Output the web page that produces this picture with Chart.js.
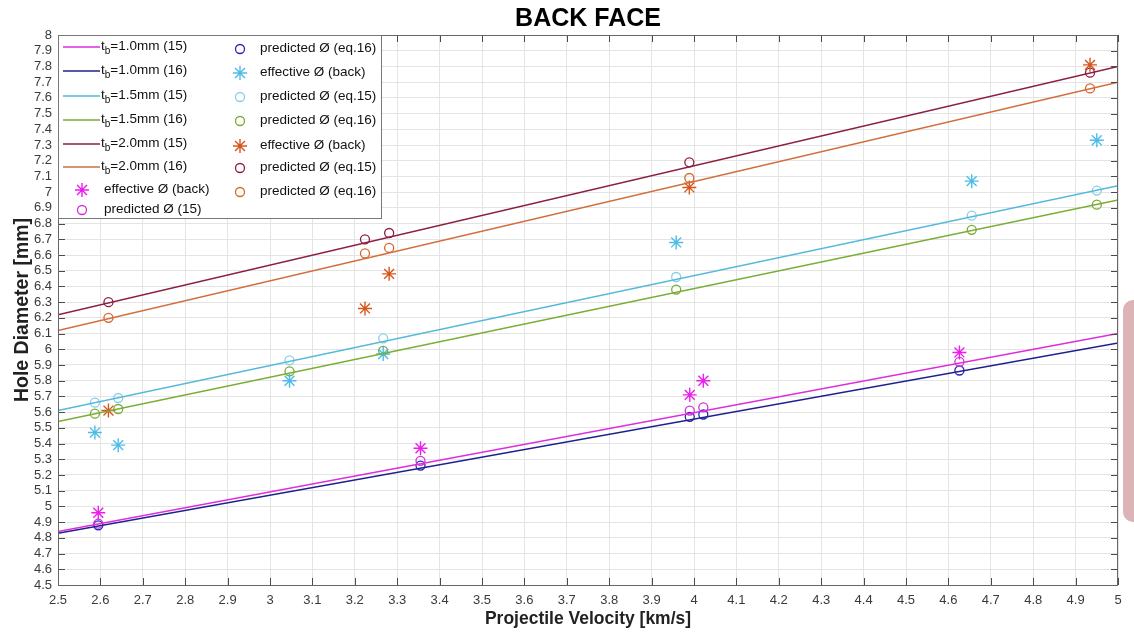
<!DOCTYPE html>
<html>
<head>
<meta charset="utf-8">
<script src="https://cdn.jsdelivr.net/npm/chart.js@4.4.1/dist/chart.umd.min.js"></script>
<style>
    html, body { margin: 0; padding: 0; background: #fff; }
    #wrap { position: relative; width: 1134px; height: 633px; overflow: hidden; }
    #blob { position: absolute; left: 1123px; top: 300px; width: 20px; height: 222px;
            background: #dcb3b6; border-radius: 10px 0 0 10px; }
</style>
</head>
<body>
<div id="wrap">
    <canvas id="chart" width="1134" height="633"></canvas>
    <div id="blob"></div>
</div>
<script>
// axis ticks
const xTicks = [2.5, 2.6, 2.7, 2.8, 2.9, 3, 3.1, 3.2, 3.3, 3.4, 3.5, 3.6, 3.7, 3.8, 3.9,
                4, 4.1, 4.2, 4.3, 4.4, 4.5, 4.6, 4.7, 4.8, 4.9, 5];
const yTicks = [4.5, 4.6, 4.7, 4.8, 4.9, 5, 5.1, 5.2, 5.3, 5.4, 5.5, 5.6, 5.7, 5.8, 5.9,
                6, 6.1, 6.2, 6.3, 6.4, 6.5, 6.6, 6.7, 6.8, 6.9, 7, 7.1, 7.2, 7.3, 7.4,
                7.5, 7.6, 7.7, 7.8, 7.9, 8];

// model lines (value at 2.5 and 5 km/s)
const lineVel = [2.5, 5];
const tb10eq15 = [4.84, 6.10];
const tb10eq16 = [4.83, 6.04];
const tb15eq15 = [5.61, 7.04];
const tb15eq16 = [5.54, 6.95];
const tb20eq15 = [6.22, 7.80];
const tb20eq16 = [6.12, 7.70];

// tb = 1.0 mm
const vel10 = [2.595, 3.355, 3.99, 4.022, 4.626];
const eff10 = [4.96, 5.37, 5.71, 5.80, 5.98];
const pred10eq15 = [4.89, 5.29, 5.61, 5.63, 5.92];
const pred10eq16 = [4.88, 5.26, 5.57, 5.585, 5.865];

// tb = 1.5 mm
const vel15 = [2.587, 2.642, 3.046, 3.267, 3.958, 4.655, 4.95];
const eff15 = [5.47, 5.39, 5.80, 5.97, 6.68, 7.07, 7.33];
const pred15eq15 = [5.66, 5.69, 5.93, 6.07, 6.46, 6.85, 7.01];
const pred15eq16 = [5.59, 5.62, 5.86, 5.99, 6.38, 6.76, 6.92];

// tb = 2.0 mm
const vel20 = [2.619, 3.224, 3.281, 3.989, 4.934];
const eff20 = [5.61, 6.26, 6.48, 7.03, 7.81];
const pred20eq15 = [6.30, 6.70, 6.74, 7.19, 7.76];
const pred20eq16 = [6.20, 6.61, 6.645, 7.09, 7.66];

const sans = '"Liberation Sans", Arial, sans-serif';
Chart.defaults.font.family = sans;

const pts = (xs, ys) => xs.map((x, i) => ({ x: x, y: ys[i] }));
const fmt = v => String(Math.round(v * 10) / 10);

function lineSet(label, ys, color) {
    return { label, data: pts(lineVel, ys), showLine: true, borderColor: color,
             backgroundColor: color, borderWidth: 1.5, pointRadius: 0, kind: 'line' };
}
function markSet(label, xs, ys, color, style) {
    const star = style === 'star';
    return { label, data: pts(xs, ys), showLine: false, borderColor: color,
             backgroundColor: 'rgba(0,0,0,0)', pointStyle: style,
             pointRadius: star ? 7 : 4.5, pointBorderWidth: star ? 1.4 : 1.3, kind: 'mark' };
}

const datasets = [
    lineSet('t_b=1.0mm (15)', tb10eq15, '#dd2ddd'),
    lineSet('t_b=1.0mm (16)', tb10eq16, '#1f1f8f'),
    lineSet('t_b=1.5mm (15)', tb15eq15, '#55b9da'),
    lineSet('t_b=1.5mm (16)', tb15eq16, '#7aad35'),
    lineSet('t_b=2.0mm (15)', tb20eq15, '#8a1f42'),
    lineSet('t_b=2.0mm (16)', tb20eq16, '#d26e3a'),
    markSet('effective Ø (back)', vel10, eff10, '#ec1eec', 'star'),
    markSet('predicted Ø (15)', vel10, pred10eq15, '#d42fd4', 'circle'),
    markSet('predicted Ø (eq.16)', vel10, pred10eq16, '#2424b4', 'circle'),
    markSet('effective Ø (back)', vel15, eff15, '#4dbde8', 'star'),
    markSet('predicted Ø (eq.15)', vel15, pred15eq15, '#86d0e8', 'circle'),
    markSet('predicted Ø (eq.16)', vel15, pred15eq16, '#77ab32', 'circle'),
    markSet('effective Ø (back)', vel20, eff20, '#d7561e', 'star'),
    markSet('predicted Ø (eq.15)', vel20, pred20eq15, '#8c1e3c', 'circle'),
    markSet('predicted Ø (eq.16)', vel20, pred20eq16, '#d2662c', 'circle')
];

// inward ticks and axes box, MATLAB style
const framePlugin = {
    id: 'frame',
    afterDatasetsDraw(chart) {
        const { ctx, chartArea: a, scales } = chart;
        ctx.save();
        ctx.strokeStyle = '#4a4a4a';
        ctx.lineWidth = 1;
        ctx.beginPath();
        xTicks.forEach(v => {
            const px = Math.round(scales.x.getPixelForValue(v)) + 0.5;
            ctx.moveTo(px, a.bottom); ctx.lineTo(px, a.bottom - 7);
            ctx.moveTo(px, a.top); ctx.lineTo(px, a.top + 7);
        });
        yTicks.forEach(v => {
            const py = Math.round(scales.y.getPixelForValue(v)) + 0.5;
            ctx.moveTo(a.left, py); ctx.lineTo(a.left + 7, py);
            ctx.moveTo(a.right, py); ctx.lineTo(a.right - 7, py);
        });
        ctx.stroke();
        ctx.strokeStyle = '#666';
        ctx.strokeRect(a.left + 0.5, a.top + 0.5, a.right - a.left - 1, a.bottom - a.top);
        ctx.restore();
    }
};

// two-column legend in the top-left corner
const rowsLeft = [47, 71, 96, 120, 144, 167, 190, 210];
const rowsRight = [49, 73, 97, 121, 146, 168, 192];
const legendPlugin = {
    id: 'boxLegend',
    afterDatasetsDraw(chart) {
        const ctx = chart.ctx;
        ctx.save();
        ctx.fillStyle = '#fff';
        ctx.strokeStyle = '#777';
        ctx.lineWidth = 1;
        ctx.fillRect(58.5, 35.5, 323, 183);
        ctx.strokeRect(58.5, 35.5, 323, 183);
        ctx.textBaseline = 'middle';
        chart.data.datasets.forEach((ds, i) => {
            const left = i < 8;
            const y = left ? rowsLeft[i] : rowsRight[i - 8];
            let tx;
            if (ds.kind === 'line') {
                ctx.strokeStyle = ds.borderColor;
                ctx.lineWidth = 1.5;
                ctx.beginPath(); ctx.moveTo(63, y); ctx.lineTo(100, y); ctx.stroke();
                tx = 101;
            } else {
                const mx = left ? 82 : 240;
                ctx.strokeStyle = ds.borderColor;
                ctx.fillStyle = 'rgba(0,0,0,0)';
                ctx.lineWidth = ds.pointBorderWidth;
                Chart.helpers.drawPoint(ctx, { pointStyle: ds.pointStyle, radius: ds.pointRadius,
                    borderWidth: ds.pointBorderWidth, rotation: 0 }, mx, y);
                tx = left ? 104 : 260;
            }
            ctx.fillStyle = '#111';
            let text = ds.label;
            if (text.startsWith('t_b')) {
                ctx.font = '13.5px ' + sans;
                ctx.fillText('t', tx, y - 1);
                tx += ctx.measureText('t').width;
                ctx.font = '10px ' + sans;
                ctx.fillText('b', tx, y + 4);
                tx += ctx.measureText('b').width;
                text = text.slice(3);
            }
            ctx.font = '13.5px ' + sans;
            ctx.fillText(text, tx, y - 1);
        });
        ctx.restore();
    },
    afterDraw(chart) {
        const ctx = chart.ctx;
        ctx.save();
        ctx.fillStyle = '#000';
        ctx.font = 'bold 25px ' + sans;
        ctx.textAlign = 'center';
        ctx.textBaseline = 'middle';
        ctx.fillText('BACK FACE', 588, 19);
        ctx.restore();
    }
};

new Chart(document.getElementById('chart'), {
    type: 'scatter',
    data: { datasets },
    options: {
        responsive: false,
        animation: false,
        devicePixelRatio: 1,
        layout: { padding: { top: 35, right: 16, left: 0, bottom: 0 } },
        elements: { line: { tension: 0 } },
        plugins: { legend: { display: false }, tooltip: { enabled: false }, title: { display: false } },
        scales: {
            x: {
                type: 'linear', min: 2.5, max: 5,
                afterBuildTicks: ax => { ax.ticks = xTicks.map(v => ({ value: v })); },
                afterFit: ax => { ax.height = 48; },
                grid: { color: '#e4e4e4', drawTicks: false },
                border: { display: false },
                ticks: { padding: 8, color: '#3a3a3a', font: { size: 13 }, maxRotation: 0,
                         autoSkip: false, callback: fmt },
                title: { display: true, text: 'Projectile Velocity [km/s]', color: '#222',
                         font: { size: 17.5, weight: 'bold' },
                         padding: { top: 3, bottom: 3 } }
            },
            y: {
                type: 'linear', min: 4.5, max: 8,
                afterBuildTicks: ax => { ax.ticks = yTicks.map(v => ({ value: v })); },
                afterFit: ax => { ax.width = 58; },
                grid: { color: '#e4e4e4', drawTicks: false },
                border: { display: false },
                ticks: { padding: 6, color: '#3a3a3a', font: { size: 13 }, autoSkip: false,
                         callback: fmt },
                title: { display: true, text: 'Hole Diameter [mm]', color: '#222',
                         font: { size: 19.5, weight: 'bold' },
                         padding: { top: 11, bottom: 0 } }
            }
        }
    },
    plugins: [framePlugin, legendPlugin]
});
</script>
</body>
</html>
